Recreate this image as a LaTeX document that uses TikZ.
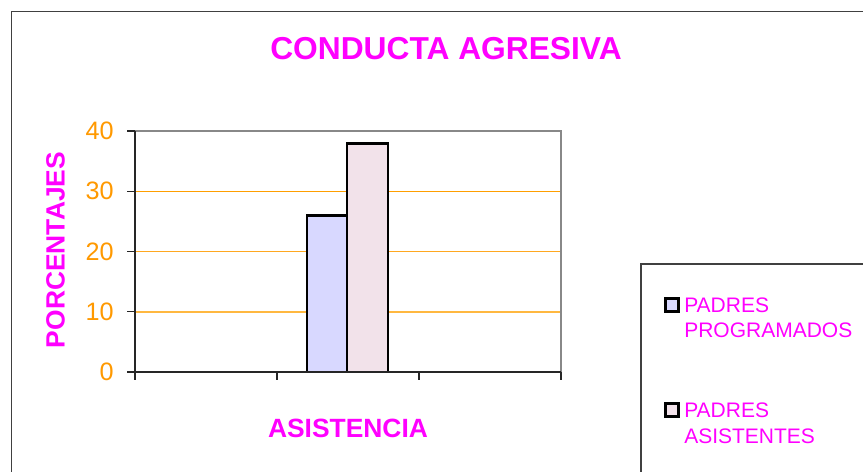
\documentclass[tikz,border=0pt]{standalone}
\usepackage{fontspec}
\setmainfont{Liberation Sans}
\definecolor{mag}{HTML}{FF00FF}
\definecolor{org}{HTML}{FF9900}
\definecolor{gridorangeA}{HTML}{FF9F00}
\definecolor{gridorangeB}{HTML}{FFA820}
\definecolor{gridorangeC}{HTML}{FFB840}
\definecolor{barblue}{HTML}{D8D8FF}
\definecolor{barpink}{HTML}{F2E2EA}
\definecolor{framegray}{HTML}{404040}
\definecolor{plotgray}{HTML}{888888}
\tikzset{
  frameline/.style={draw=framegray, line width=1.2pt},
  plotborder/.style={draw=plotgray, line width=1.5pt},
  axisline/.style={draw=black!85, line width=1pt},
  bar/.style={draw=black, line width=2.2pt},
  ticklabel/.style={anchor=east, inner sep=0pt, text=org, font=\fontsize{18.9}{22}\selectfont},
  boldlabel/.style={inner sep=0pt, text=mag, font=\bfseries\fontsize{19.8}{23}\selectfont},
  legtext/.style={anchor=base west, inner sep=0pt, text=mag, font=\fontsize{15.75}{18.75}\selectfont},
  legbox/.style={draw=black, line width=1.8pt}
}
\begin{document}
\begin{tikzpicture}[x=0.75pt,y=-0.75pt]
\useasboundingbox (0,0) rectangle (863,471);
\fill[white] (0,0) rectangle (863,471);
% outer frame
\draw[frameline] (11.5,480) |- (880,11.5);
% title
\node[inner sep=0pt, anchor=base, text=mag, font=\bfseries\fontsize{23.8}{28}\selectfont] (title) at (446,59) {CONDUCTA AGRESIVA};
% gridlines (as thin filled bands)
\fill[gridorangeA] (135,190.5) rectangle (561,192);
\fill[gridorangeB] (135,250.75) rectangle (561,252.25);
\fill[gridorangeC] (135,311) rectangle (561,312.5);
% plot border (top, right)
\draw[plotborder] (135,131) -- (561,131) -- (561,372);
% bars
\draw[bar, fill=barblue] (307,372) rectangle (347,215.35);
\draw[bar, fill=barpink] (347,372) rectangle (388,143.05);
% axes
\draw[axisline] (135,131) -- (135,372) -- (561,372);
% y ticks and labels
\foreach \v/\yy in {0/372,10/311.75,20/251.5,30/191.25,40/131} {
  \draw[axisline] (127,\yy) -- (135,\yy);
  \node[ticklabel] (yl\v) at (114,\yy) {\v};
}
% x ticks
\foreach \xx in {135,277,419,561} {
  \draw[axisline] (\xx,372) -- (\xx,380);
}
% axis titles
\node[boldlabel, rotate=90] (ytitle) at (55.5,250) {PORCENTAJES};
\node[boldlabel] (xtitle) at (348,428.5) {ASISTENCIA};
% legend
\draw[frameline, line width=0.9pt] (641,480) |- (880,264);
\draw[legbox, fill=barblue] (665.5,298.5) rectangle (678.5,311.5);
\node[legtext] (l1a) at (684,312) {PADRES};
\node[legtext] (l1b) at (684,337) {PROGRAMADOS};
\draw[legbox, fill=barpink] (665.5,403.5) rectangle (678.5,416.5);
\node[legtext] (l2a) at (684,417) {PADRES};
\node[legtext] (l2b) at (684,443) {ASISTENTES};
\end{tikzpicture}
\end{document}
